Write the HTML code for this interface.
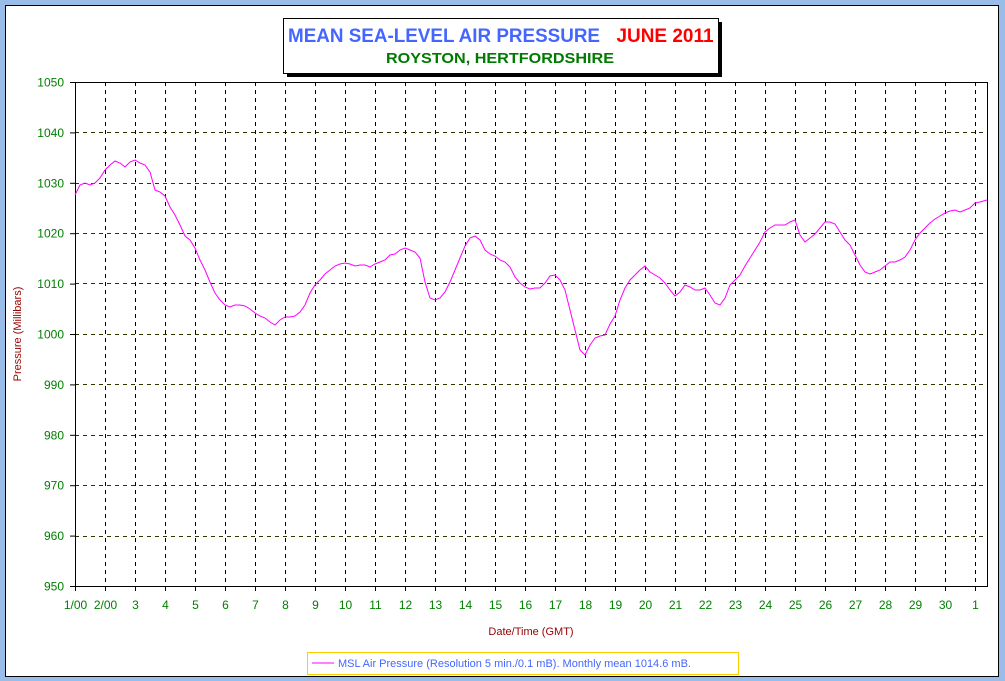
<!DOCTYPE html>
<html><head><style>
html,body{margin:0;padding:0;background:#99bde8;}
svg{display:block;font-family:"Liberation Sans",Arial,sans-serif;}
</style></head><body>
<svg width="1005" height="681" viewBox="0 0 1005 681" xmlns="http://www.w3.org/2000/svg">
<rect x="0" y="0" width="1005" height="681" fill="#99bde8"/>
<rect x="5.5" y="5.5" width="993" height="671" fill="#fff" stroke="#000" stroke-width="1"/>
<!-- title -->
<rect x="287" y="22" width="435" height="55" fill="#000"/>
<rect x="283.5" y="18.5" width="435" height="55" fill="#fff" stroke="#000"/>
<text x="444" y="42" text-anchor="middle" font-size="19" font-weight="bold" fill="#4466ff" textLength="312" lengthAdjust="spacingAndGlyphs">MEAN SEA-LEVEL AIR PRESSURE</text>
<text x="665" y="42" text-anchor="middle" font-size="19" font-weight="bold" fill="#ff0000" textLength="97" lengthAdjust="spacingAndGlyphs">JUNE 2011</text>
<text x="500" y="63" text-anchor="middle" font-size="15" font-weight="bold" fill="#007a00" textLength="228" lengthAdjust="spacingAndGlyphs">ROYSTON, HERTFORDSHIRE</text>
<!-- grid -->
<g stroke="#333300" stroke-dasharray="4,4" stroke-width="1">
<line x1="75" y1="132.5" x2="987" y2="132.5"/><line x1="75" y1="183.5" x2="987" y2="183.5"/>
<line x1="75" y1="233.5" x2="987" y2="233.5"/><line x1="75" y1="283.5" x2="987" y2="283.5"/>
<line x1="75" y1="334.5" x2="987" y2="334.5"/><line x1="75" y1="384.5" x2="987" y2="384.5"/>
<line x1="75" y1="435.5" x2="987" y2="435.5"/><line x1="75" y1="485.5" x2="987" y2="485.5"/>
<line x1="75" y1="536.5" x2="987" y2="536.5"/>
</g>
<g stroke="#000" stroke-dasharray="4,4" stroke-width="1" id="vg"></g>
<rect x="75.5" y="82.5" width="912" height="504" fill="none" stroke="#000"/>
<g id="ticks" stroke="#000"></g>
<g id="ylab" font-size="12" fill="#008000" text-anchor="end"></g>
<g id="xlab" font-size="12" fill="#008000" text-anchor="middle"></g>
<text transform="translate(21,334) rotate(-90)" text-anchor="middle" font-size="11" fill="#990000">Pressure (Millibars)</text>
<text x="531" y="635" text-anchor="middle" font-size="11" fill="#990000">Date/Time (GMT)</text>
<polyline fill="none" stroke="#ff00ff" stroke-width="1" points="75,195 80,185 85,183 90,185 95,183 100,178 105,170 110,165 115,161 120,163 125,167 130,162 135,160 140,163 145,165 150,172 155,190 160,192 165,196 170,207 175,215 180,225 185,236 190,240 195,248 200,260 205,270 210,282 215,293 220,300 225,305 230,307 235,305 240,305 245,306 250,309 255,313 260,316 265,318 270,322 275,325 280,320 285,317 290,317 295,316 300,312 305,305 310,293 315,285 320,280 325,274 330,270 335,266 340,264 345,263 350,264 355,266 360,265 365,265 370,267 375,264 380,262 385,260 390,255 395,254 400,250 405,248 410,250 415,252 420,258 425,282 430,298 435,300 440,298 445,292 450,282 455,270 460,258 465,246 470,238 475,236 480,240 485,250 490,254 495,256 500,260 505,262 510,267 515,277 520,283 525,287 530,289 535,288 540,288 545,283 550,276 555,275 560,280 565,290 570,310 575,330 580,350 585,355 590,345 595,338 600,336 605,335 610,324 615,316 620,300 625,288 630,280 635,275 640,270 645,266 650,272 655,275 660,278 665,283 670,290 675,296 680,292 685,285 690,287 695,290 700,290 705,288 710,295 715,303 720,305 725,298 730,285 735,280 740,275 745,266 750,258 755,250 760,242 765,232 770,228 775,225 780,225 785,225 790,222 795,220 800,235 805,242 810,238 815,234 820,228 825,222 830,222 835,224 840,232 845,240 850,245 855,255 860,265 865,272 870,274 875,272 880,270 885,266 890,262 895,262 900,260 905,257 910,250 915,240 920,233 925,228 930,223 935,219 940,216 945,213 950,211 955,210 960,212 965,210 970,208 975,203 980,202 987,200"/>
<rect x="307.5" y="652.5" width="431" height="22" fill="#fff" stroke="#ffcc00"/>
<line x1="312" y1="663" x2="334" y2="663" stroke="#ff00ff"/>
<text x="338" y="667" font-size="11" fill="#4466ff">MSL Air Pressure (Resolution 5 min./0.1 mB). Monthly mean 1014.6 mB.</text>
<script>
var ns="http://www.w3.org/2000/svg";
function el(p,t,a,txt){var e=document.createElementNS(ns,t);for(var k in a)e.setAttribute(k,a[k]);if(txt!==undefined)e.textContent=txt;document.getElementById(p).appendChild(e);}
for(var i=1;i<=30;i++){var x=75.5+30*i;el("vg","line",{x1:x,y1:82,x2:x,y2:586});}
var xl=["1/00","2/00"];for(var d=3;d<=30;d++)xl.push(""+d);xl.push("1");
for(var i=0;i<31;i++){var x=75.5+30*i;el("ticks","line",{x1:x,y1:586,x2:x,y2:591});el("xlab","text",{x:x,y:609},xl[i]);}
for(var j=0;j<=10;j++){var y=82.5+50.4*j;el("ticks","line",{x1:70,y1:y,x2:75,y2:y});el("ylab","text",{x:64,y:y+4},""+(1050-10*j));}
</script>
</svg>
</body></html>
